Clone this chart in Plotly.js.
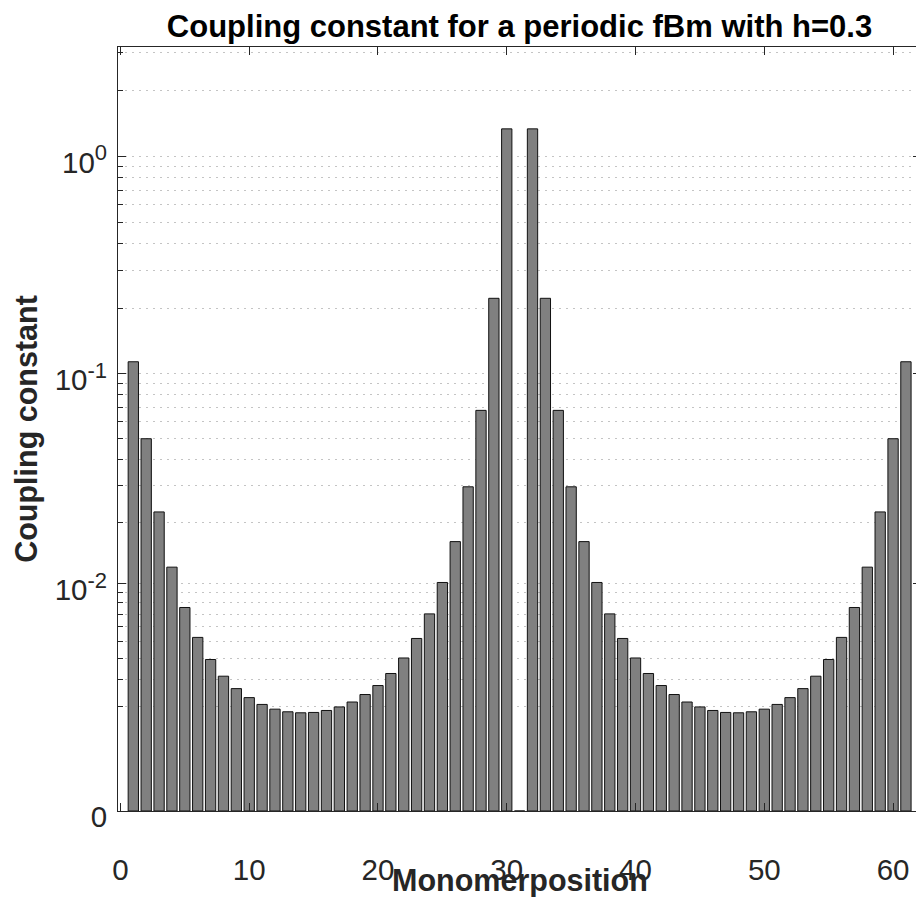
<!DOCTYPE html>
<html>
<head>
<meta charset="utf-8">
<script src="https://cdn.plot.ly/plotly-3.0.1.min.js"></script>
<style>
html, body { margin: 0; padding: 0; overflow: hidden; background: #fff; }
#chart { width: 926px; height: 897px; }
</style>
</head>
<body>
<div id="chart"></div>
<script>
// Monomer positions (x categories)
const monomer = [1,2,3,4,5,6,7,8,9,10,11,12,13,14,15,16,17,18,19,20,
  21,22,23,24,25,26,27,28,29,30,31,32,33,34,35,36,37,38,39,40,
  41,42,43,44,45,46,47,48,49,50,51,52,53,54,55,56,57,58,59,60,61];

// Coupling constant
const coupling = [0.1137,0.0499,0.0225,0.01212,0.00757,0.00525,0.00395,0.00315,0.00264,0.00231,
  0.00208,0.00193,0.00185,0.00182,0.00183,0.00189,0.00200,0.00216,0.00242,0.00276,
  0.00327,0.00403,0.00518,0.00701,0.01016,0.01618,0.02964,0.06766,0.2231,1.3395,
  0,
  1.3395,0.2231,0.06766,0.02964,0.01618,0.01016,0.00701,0.00518,0.00403,0.00327,
  0.00276,0.00242,0.00216,0.00200,0.00189,0.00183,0.00182,0.00185,0.00193,0.00208,
  0.00231,0.00264,0.00315,0.00395,0.00525,0.00757,0.01212,0.0225,0.0499,0.1137];

// Axis ticks
const xTickVals = [0,10,20,30,40,50,60];
const yMajorVals = [0, 0.01, 0.1, 1];
const SUP = t => '10<sup><span style="font-size:22px">' + t + '</span></sup>';
const yMajorText = ['0', SUP('-2'), SUP('-1'), SUP('0')];
const yMinorVals = [0.002,0.003,0.004,0.005,0.006,0.007,0.008,0.009,
  0.02,0.03,0.04,0.05,0.06,0.07,0.08,0.09,
  0.2,0.3,0.4,0.5,0.6,0.7,0.8,0.9, 2, 3];
const yTop = 3.18;

// symmetric-log scale (linear threshold 1e-3), as in the figure
const LIN = 0.001;
const symlog = v => Math.log10(1 + v / LIN);

const FONT = 'Liberation Sans, Arial, Helvetica, sans-serif';
const AX = '#262626';
const GRID = '#c4c4c4';

const trace = {
  type: 'bar',
  x: monomer,
  y: coupling.map(symlog),
  width: 0.8,
  marker: { color: '#808080', line: { color: '#111111', width: 1 } },
  hoverinfo: 'skip'
};

const layout = {
  width: 926, height: 897,
  margin: { l: 118, r: 5, t: 47, b: 86 },
  paper_bgcolor: '#ffffff', plot_bgcolor: '#ffffff',
  showlegend: false,
  font: { family: FONT, color: AX },
  title: {
    text: '<b>Coupling constant for a periodic fBm with h=0.3</b>',
    font: { family: FONT, size: 31, color: '#000000' },
    xref: 'paper', x: 0.5, xanchor: 'center',
    yref: 'container', y: 1 - 26 / 897, yanchor: 'middle'
  },
  xaxis: {
    range: [-0.19, 62.17],
    tickmode: 'array', tickvals: xTickVals,
    ticks: 'inside', ticklen: 8, tickwidth: 1, tickcolor: AX,
    showline: true, linecolor: AX, linewidth: 1, mirror: 'ticks',
    showgrid: false, zeroline: false,
    tickfont: { family: FONT, size: 29.5, color: AX },
    ticklabelstandoff: 33,
    automargin: false
  },
  yaxis: {
    range: [0, symlog(yTop)],
    tickmode: 'array', tickvals: yMajorVals.map(symlog), ticktext: yMajorText,
    ticks: 'inside', ticklen: 8, tickwidth: 1, tickcolor: AX,
    showline: true, linecolor: AX, linewidth: 1, mirror: 'ticks',
    showgrid: true, gridcolor: GRID, gridwidth: 1, griddash: '2px,5px',
    zeroline: false,
    tickfont: { family: FONT, size: 29.5, color: AX },
    ticklabelstandoff: 4,
    ticklabelshift: 6,
    minor: {
      tickmode: 'array', tickvals: yMinorVals.map(symlog),
      ticks: 'inside', ticklen: 5, tickwidth: 1, tickcolor: AX,
      showgrid: true, gridcolor: GRID, gridwidth: 1, griddash: '2px,5px'
    },
    title: { text: '<b>Coupling constant</b>', font: { family: FONT, size: 30.5, color: AX }, standoff: 8 },
    automargin: false
  },
  annotations: [{
    text: '<b>Monomerposition</b>',
    font: { family: FONT, size: 30.5, color: AX },
    xref: 'paper', x: 0.5, xanchor: 'center',
    yref: 'paper', y: -(880 - 810.7) / 763.4, yanchor: 'middle',
    showarrow: false
  }],
  bargap: 0.2
};

Plotly.newPlot('chart', [trace], layout, { displayModeBar: false, staticPlot: true });
</script>
</body>
</html>
